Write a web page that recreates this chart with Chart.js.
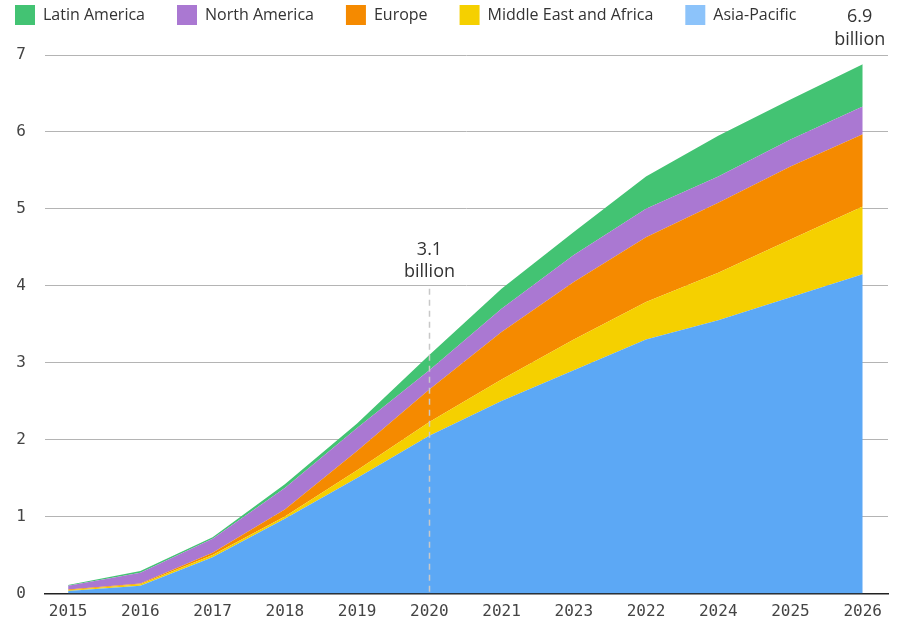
<!DOCTYPE html>
<html>
<head>
<meta charset="utf-8">
<script src="https://cdn.jsdelivr.net/npm/chart.js@4.4.1/dist/chart.umd.min.js"></script>
<style>
  html, body { margin: 0; padding: 0; background: #fff; overflow: hidden; }
  canvas { display: block; }
</style>
</head>
<body>
<canvas id="chart" width="903" height="622"></canvas>
<script>
// years, in the order printed on the axis
const years = ['2015', '2016', '2017', '2018', '2019', '2020', '2021', '2023', '2022', '2024', '2025', '2026'];

// users in billions per region, stacked from the bottom up
const asiaPacific      = [0.03, 0.10, 0.47, 0.97, 1.50, 2.05, 2.50, 2.90, 3.30, 3.55, 3.85, 4.15];
const middleEastAfrica = [0.01, 0.02, 0.03, 0.03, 0.10, 0.18, 0.28, 0.40, 0.49, 0.62, 0.75, 0.88];
const europe           = [0.01, 0.01, 0.03, 0.09, 0.25, 0.42, 0.62, 0.75, 0.84, 0.91, 0.95, 0.94];
const northAmerica     = [0.05, 0.14, 0.18, 0.28, 0.30, 0.25, 0.30, 0.35, 0.37, 0.34, 0.35, 0.36];
const latinAmerica     = [0.01, 0.02, 0.02, 0.05, 0.06, 0.20, 0.26, 0.30, 0.42, 0.53, 0.52, 0.55];

// callouts: year index and total
const calloutIndex = [5, 11];
const calloutText = ['3.1', '6.9'];

const textFont = '"Open Sans", sans-serif';
const tickFont = '"DejaVu Sans Mono", monospace';

function points(values) {
    return values.map((v, i) => ({ x: i, y: v }));
}

function area(label, values, color, fill) {
    return {
        label: label,
        data: points(values),
        backgroundColor: color,
        borderColor: color,
        borderWidth: 0,
        pointRadius: 0,
        tension: 0,
        fill: fill
    };
}

// a bit of extra room under the legend
const legendSpace = {
    id: 'legendSpace',
    beforeInit(chart) {
        const fit = chart.legend.fit;
        chart.legend.fit = function() {
            fit.call(this);
            this.height += 20;
        };
    }
};

// callout text and the dashed marker at 2020
const callouts = {
    id: 'callouts',
    afterDatasetsDraw(chart) {
        const ctx = chart.ctx;
        const x = chart.scales.x;
        const y = chart.scales.y;
        const area = chart.chartArea;

        ctx.save();
        // dashed line at 2020
        const px = Math.round(x.getPixelForValue(calloutIndex[0])) + 0.5;
        ctx.strokeStyle = '#c8c8c8';
        ctx.lineWidth = 1.5;
        ctx.setLineDash([6, 5]);
        ctx.beginPath();
        ctx.moveTo(px, y.getPixelForValue(4) + 3);
        ctx.lineTo(px, y.getPixelForValue(0));
        ctx.stroke();
        ctx.setLineDash([]);

        ctx.fillStyle = '#333';
        ctx.font = '18px ' + textFont;
        ctx.textAlign = 'center';
        ctx.textBaseline = 'middle';
        const y4 = y.getPixelForValue(4);
        ctx.fillText(calloutText[0], px, y4 - 36);
        ctx.fillText('billion', px, y4 - 14);

        const ex = x.getPixelForValue(calloutIndex[1]) - 3;
        ctx.fillText(calloutText[1], ex, area.top - 38);
        ctx.fillText('billion', ex, area.top - 15);
        ctx.restore();
    }
};

const ctx = document.getElementById('chart').getContext('2d');

new Chart(ctx, {
    type: 'line',
    data: {
        datasets: [
            area('Asia-Pacific', asiaPacific, '#5ca8f5', 'origin'),
            area('Middle East and Africa', middleEastAfrica, '#f5d000', '-1'),
            area('Europe', europe, '#f58a00', '-1'),
            area('North America', northAmerica, '#aa78d2', '-1'),
            area('Latin America', latinAmerica, '#43c373', '-1')
        ]
    },
    options: {
        responsive: false,
        animation: false,
        layout: {
            padding: { left: -17, top: -27, right: 15, bottom: 0 }
        },
        plugins: {
            legend: {
                position: 'top',
                align: 'start',
                reverse: true,
                labels: {
                    boxWidth: 20,
                    boxHeight: 20,
                    padding: 32,
                    color: '#333',
                    font: { family: textFont, size: 16 },
                    generateLabels(chart) {
                        const items = Chart.defaults.plugins.legend.labels.generateLabels(chart);
                        items.forEach(item => {
                            item.lineWidth = 0;
                            if (item.text === 'Asia-Pacific') {
                                item.fillStyle = '#8cc3fa';
                            }
                        });
                        return items;
                    }
                }
            },
            tooltip: { enabled: false }
        },
        scales: {
            x: {
                type: 'linear',
                min: -0.32,
                max: 11.35,
                afterFit(scale) {
                    scale.height = 23;
                },
                grid: { display: false },
                border: { display: true, color: '#222', width: 1.5 },
                ticks: {
                    stepSize: 1,
                    includeBounds: false,
                    autoSkip: false,
                    maxRotation: 0,
                    padding: 1,
                    color: '#444',
                    font: { family: tickFont, size: 16 },
                    callback: v => Number.isInteger(v) && years[v] ? years[v] : ''
                }
            },
            y: {
                stacked: true,
                min: 0,
                max: 7,
                afterFit(scale) {
                    scale.width = 62;
                },
                grid: { color: '#b4b4b4', lineWidth: 1, drawTicks: false },
                border: { display: false },
                ticks: {
                    stepSize: 1,
                    padding: 19,
                    color: '#444',
                    font: { family: tickFont, size: 16 }
                }
            }
        }
    },
    plugins: [legendSpace, callouts]
});
</script>
</body>
</html>
